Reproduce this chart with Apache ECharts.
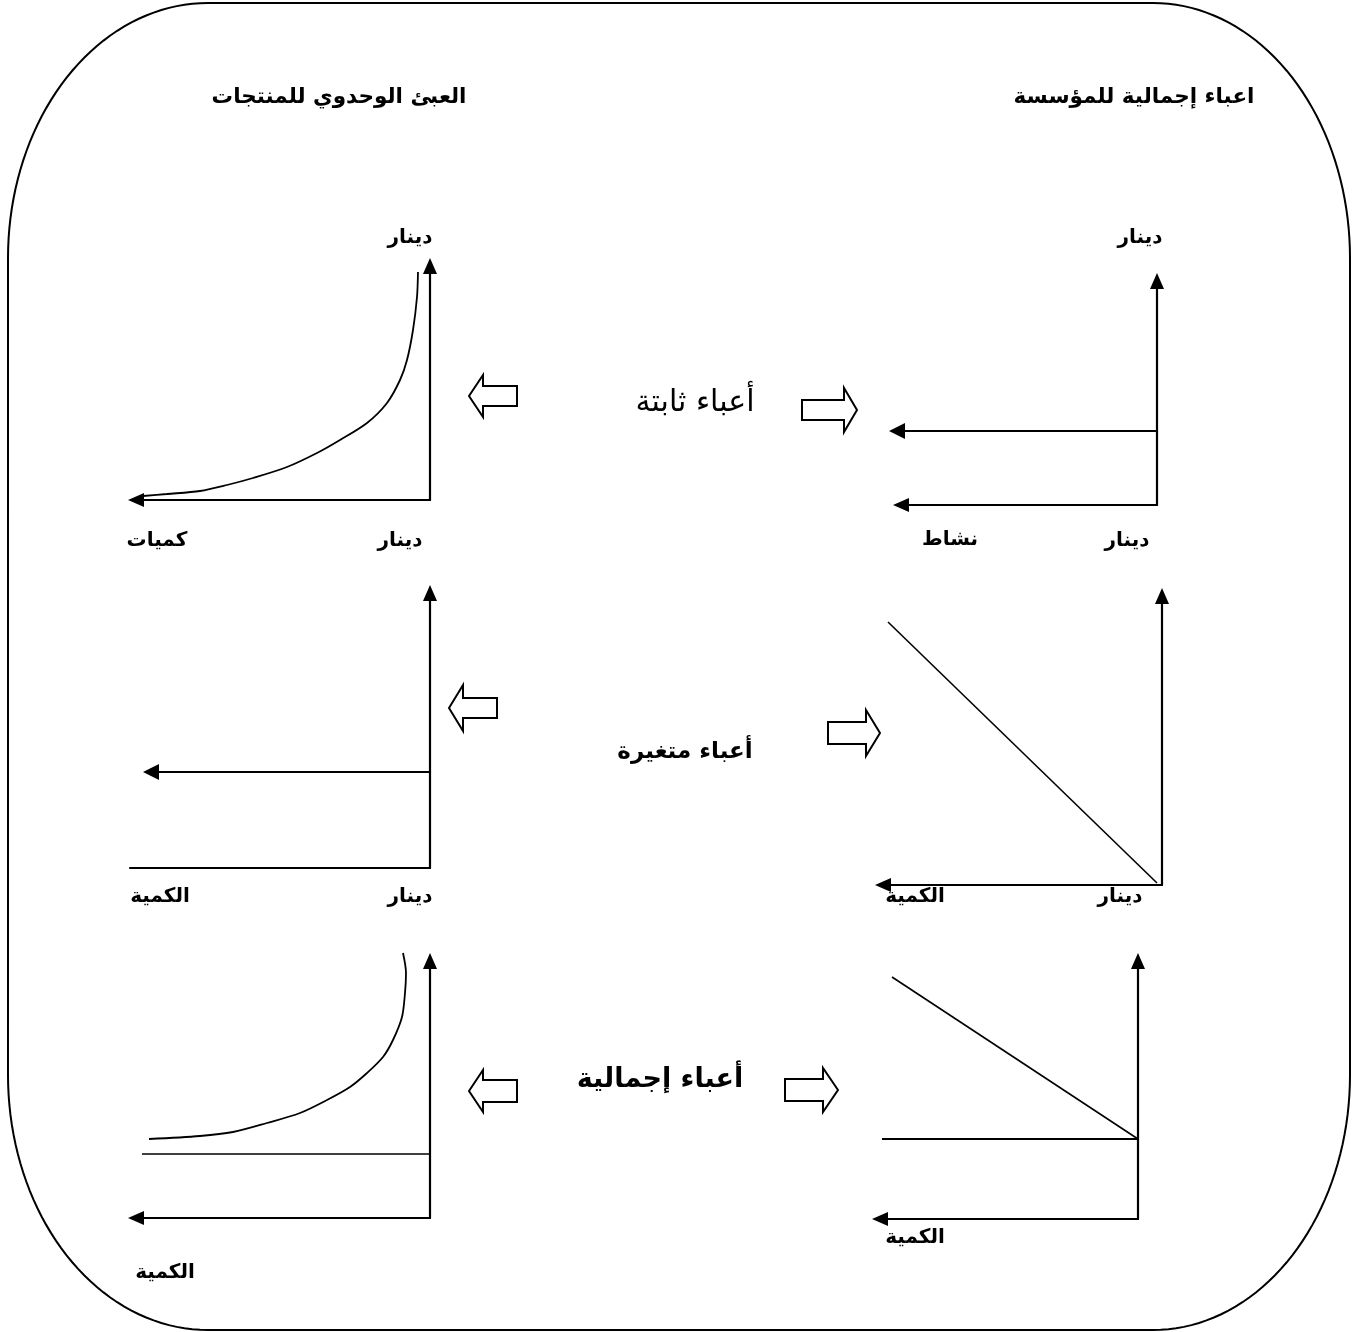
<!DOCTYPE html>
<html>
<head>
<meta charset="utf-8">
<script src="https://cdn.jsdelivr.net/npm/echarts@6/dist/echarts.min.js"></script>
<style>
  body { margin: 0; background: #fff; }
  #main { width: 1357px; height: 1332px; }
</style>
</head>
<body>
<div id="main"></div>
<script>
// values are distances from each panel's origin (x to the left, y upward)
const fixedUnitCurve = [[287, 4], [263, 6], [230, 9], [203, 15], [177, 22], [143, 33], [113, 47], [90, 60], [63, 77], [43, 97], [30, 120], [23, 140], [17, 170], [13, 203], [12, 228]]
const fixedTotalArrow = [[0, 74], [260, 74]]
const variableUnitArrow = [[0, 96], [279, 96]]
const variableUnitBase = [[0, 0], [300, 0]]
const variableTotalLine = [[274, 263], [5, 2]]
const totalUnitCurve = [[281, 79], [230, 82], [197, 86], [163, 95], [130, 105], [103, 118], [80, 131], [63, 145], [47, 161], [37, 178], [28, 201], [25, 225], [24, 245], [27, 265]]
const totalUnitFixed = [[0, 64], [288, 64]]
const totalFirmFixed = [[0, 80], [256, 80]]
const totalFirmLine = [[246, 242], [0, 80]]

const chart = echarts.init(document.getElementById('main'))

const panels = [
  { left: 136, top: 266, width: 294, height: 234, xArrow: true },
  { left: 901, top: 281, width: 256, height: 224, xArrow: true },
  { left: 130, top: 593, width: 300, height: 275, xArrow: false },
  { left: 883, top: 596, width: 279, height: 289, xArrow: true },
  { left: 136, top: 961, width: 294, height: 257, xArrow: true },
  { left: 880, top: 961, width: 258, height: 258, xArrow: true }
]

const axisLine = (symbol) => ({
  onZero: false,
  symbol: symbol,
  symbolSize: [14, 16],
  lineStyle: { color: '#000', width: 2.2 }
})

const grid = panels.map(p => ({ left: p.left, top: p.top, width: p.width, height: p.height }))
const xAxis = panels.map((p, i) => ({
  type: 'value', gridIndex: i, inverse: true, min: 0, max: p.width,
  axisLine: axisLine(p.xArrow ? ['triangle', 'none'] : 'none'),
  axisTick: { show: false }, axisLabel: { show: false }, splitLine: { show: false }
}))
const yAxis = panels.map((p, i) => ({
  type: 'value', gridIndex: i, position: 'right', min: 0, max: p.height,
  axisLine: axisLine(['none', 'triangle']),
  axisTick: { show: false }, axisLabel: { show: false }, splitLine: { show: false }
}))

const curve = (i, data, width) => ({
  type: 'line', xAxisIndex: i, yAxisIndex: i, data: data, smooth: 0.3,
  showSymbol: false, clip: false, silent: true,
  lineStyle: { color: '#000', width: width || 1.8 }
})
const arrow = (i, coords) => ({
  type: 'lines', coordinateSystem: 'cartesian2d', xAxisIndex: i, yAxisIndex: i,
  symbol: ['none', 'triangle'], symbolSize: [14, 16], silent: true, clip: false,
  lineStyle: { color: '#000', width: 2.2, opacity: 1 },
  data: [{ coords: coords }]
})

// hollow block arrows between the panels
const blockArrow = (tip, tail, cy, head, shaft, headLen) => {
  const dir = tail > tip ? 1 : -1
  const base = tip + dir * headLen
  return {
    type: 'polygon',
    shape: { points: [[tip, cy], [base, cy - head], [base, cy - shaft], [tail, cy - shaft], [tail, cy + shaft], [base, cy + shaft], [base, cy + head]] },
    style: { fill: '#fff', stroke: '#000', lineWidth: 2 }
  }
}

// rounded frame with elliptical corners
const framePoints = () => {
  const pts = []
  const corners = [
    { cx: 1153, cy: 258, rx: 197, ry: 255, a0: -90, a1: 0 },
    { cx: 1153, cy: 1075, rx: 197, ry: 255, a0: 0, a1: 90 },
    { cx: 208, cy: 1075, rx: 200, ry: 255, a0: 90, a1: 180 },
    { cx: 208, cy: 258, rx: 200, ry: 255, a0: 180, a1: 270 }
  ]
  corners.forEach(c => {
    for (let k = 0; k <= 40; k++) {
      const a = (c.a0 + (c.a1 - c.a0) * k / 40) * Math.PI / 180
      pts.push([c.cx + c.rx * Math.cos(a), c.cy + c.ry * Math.sin(a)])
    }
  })
  return pts
}

const text = (str, x, y, size, bold) => ({
  type: 'text', x: x, y: y,
  style: { text: str, fontSize: size, fontWeight: bold ? 'bold' : 'normal', fontFamily: 'DejaVu Sans', fill: '#000', align: 'center', verticalAlign: 'middle' }
})

const option = {
  animation: false,
  backgroundColor: '#fff',
  grid: grid,
  xAxis: xAxis,
  yAxis: yAxis,
  series: [
    curve(0, fixedUnitCurve),
    arrow(1, fixedTotalArrow),
    arrow(2, variableUnitArrow),
    curve(2, variableUnitBase, 2.2),
    curve(3, variableTotalLine, 1.6),
    curve(4, totalUnitCurve),
    curve(4, totalUnitFixed, 1.6),
    curve(5, totalFirmFixed, 1.8),
    curve(5, totalFirmLine, 1.6)
  ],
  graphic: [
    {
      type: 'polygon',
      shape: { points: framePoints() },
      style: { fill: 'none', stroke: '#000', lineWidth: 2 }
    },
    blockArrow(469, 517, 396, 21, 10, 14),
    blockArrow(857, 802, 410, 22, 10, 13),
    blockArrow(449, 497, 708, 23, 10, 14),
    blockArrow(880, 828, 733, 23, 11, 14),
    blockArrow(469, 517, 1091, 21, 11, 14),
    blockArrow(838, 785, 1090, 22, 11, 15),
    text('العبئ الوحدوي للمنتجات', 339, 97, 21.5, true),
    text('اعباء إجمالية للمؤسسة', 1134, 97, 21.5, true),
    text('دينار', 410, 238, 20, true),
    text('دينار', 400, 541, 20, true),
    text('كميات', 157, 541, 20, true),
    text('دينار', 1140, 238, 20, true),
    text('نشاط', 950, 540, 20, true),
    text('دينار', 1127, 541, 20, true),
    text('دينار', 410, 897, 20, true),
    text('الكمية', 160, 897, 20, true),
    text('الكمية', 915, 897, 20, true),
    text('دينار', 1120, 897, 20, true),
    text('الكمية', 165, 1273, 20, true),
    text('الكمية', 915, 1238, 20, true),
    text('أعباء ثابتة', 695, 403, 30, false),
    text('أعباء متغيرة', 685, 752, 23, true),
    text('أعباء إجمالية', 660, 1080, 27, true)
  ]
}

chart.setOption(option)
</script>
</body>
</html>
